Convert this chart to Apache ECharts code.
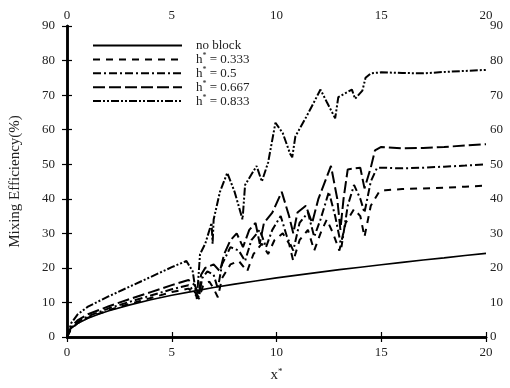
<!DOCTYPE html>
<html>
<head>
<meta charset="utf-8">
<script src="https://cdn.jsdelivr.net/npm/echarts@6/dist/echarts.min.js"></script>
<style>
  html, body { margin: 0; padding: 0; background: #fff; }
  #chart { width: 510px; height: 388px; }
</style>
</head>
<body>
<div id="chart"></div>
<script>
// x*, mixing efficiency (%) pairs
const noBlock = [[0,0],[0.1,2],[0.3,3],[0.5,3.9],[1,5.4],[1.5,6.6],[2,7.6],[3,9.3],[4,10.8],[5,12.1],[6,13.2],[7,14.3],[8,15.3],[9,16.2],[10,17.1],[11,17.9],[12,18.7],[13,19.5],[14,20.2],[15,20.9],[16,21.6],[17,22.3],[18,22.9],[19,23.6],[20,24.2]];

const h333 = [[0,0],[0.2,2.3],[0.5,4],[1,5.6],[2,7.8],[3,9.6],[4,11.3],[5,13],[5.8,14],[6.1,12.5],[6.3,11],[6.5,15],[6.8,16],[7.0,14],[7.2,11.5],[7.4,17],[7.8,21],[8.2,22],[8.6,19],[8.9,24],[9.3,27],[9.6,24],[9.9,28],[10.3,30],[10.6,27],[10.8,22],[11.1,28],[11.5,31],[11.8,25],[12.1,30],[12.4,34],[12.7,30],[13.0,25],[13.3,33],[13.7,37],[14.0,35],[14.2,29],[14.5,38],[14.9,42],[15.2,42.5],[16,42.8],[17,43],[18,43.2],[19,43.5],[20,43.8]];

const h500 = [[0,0],[0.2,2.6],[0.5,4.3],[1,6],[2,8.3],[3,10.2],[4,12],[5,13.8],[5.8,15],[6.1,13],[6.3,11.5],[6.45,17],[6.7,19],[7.0,18],[7.2,14],[7.4,21],[7.8,26],[8.2,25],[8.5,22],[8.8,28],[9.2,31],[9.5,26],[9.8,31],[10.2,35],[10.5,29],[10.8,25],[11.1,33],[11.5,36],[11.8,29],[12.1,34],[12.5,42],[12.8,35],[13.1,26],[13.4,38],[13.7,44],[14.0,40],[14.2,36],[14.5,45],[14.8,49],[15,49],[16,48.8],[17,49],[18,49.3],[19,49.6],[20,50]];

const h667 = [[0,0],[0.2,3],[0.5,4.8],[1,6.6],[2,8.9],[3,11],[4,13],[5,15],[5.8,16.5],[6.1,15],[6.3,12],[6.4,18],[6.6,20],[7.0,21],[7.3,19],[7.5,24],[7.8,28],[8.1,30],[8.4,26],[8.7,31],[9.0,33],[9.2,27],[9.4,33],[9.8,36],[10.25,42],[10.6,35],[10.8,30],[11.0,36],[11.4,38],[11.7,33],[12.0,40],[12.6,49.5],[12.9,40],[13.05,31],[13.2,40],[13.4,48.5],[14.0,49],[14.2,43],[14.5,49],[14.7,54],[15,55],[16,54.6],[17,54.7],[18,55],[19,55.4],[20,55.8]];

const h833 = [[0,0],[0.2,4],[0.5,6.5],[1,8.8],[2,11.8],[3,14.6],[4,17.4],[5,20.2],[5.7,22],[6.0,19],[6.2,11],[6.35,24],[6.6,27],[6.9,33],[6.95,27],[7.0,34],[7.3,42],[7.65,47.5],[8.0,42],[8.38,34],[8.5,44],[9.05,49.5],[9.3,45],[9.6,50.5],[9.95,62],[10.3,59],[10.65,53],[10.75,52],[10.9,58],[11.45,64],[12.1,71.6],[12.4,68],[12.8,63.3],[12.95,69.4],[13.6,71.6],[13.75,68.9],[14.1,71.3],[14.25,75],[14.5,76.3],[15,76.6],[16,76.4],[17,76.3],[18,76.7],[19,77],[20,77.3]];

const seriesNames = ['no block', 'h* = 0.333', 'h* = 0.5', 'h* = 0.667', 'h* = 0.833'];

const chart = echarts.init(document.getElementById('chart'));
const font = 'Liberation Serif';
const labelStyle = { fontFamily: font, fontSize: 13, color: '#222' };
const axisLine = { lineStyle: { color: '#000', width: 2.5 } };
const axisTick = { inside: true, length: 5, lineStyle: { color: '#000', width: 1.2 } };

function mkSeries(name, data, dash, width) {
    return {
        name: name,
        type: 'line',
        data: data,
        symbol: 'none',
        itemStyle: { color: '#000' },
        lineStyle: { color: '#000', width: width, type: dash },
        xAxisIndex: 0, yAxisIndex: 0
    };
}

chart.setOption({
    animation: false,
    backgroundColor: '#fff',
    grid: { left: 67, right: 24, top: 26, bottom: 39 },
    legend: {
        orient: 'vertical',
        left: 92, top: 39, padding: 0,
        itemWidth: 89, itemHeight: 10, itemGap: 0.4,
        data: seriesNames,
        itemStyle: { opacity: 0 },
        formatter: function(n) { return n.replace('h*', 'h{sup|*}'); },
        textStyle: {
            fontFamily: font, fontSize: 13, color: '#222', padding: [0, 0, 0, 9],
            rich: { sup: { fontFamily: font, fontSize: 8, color: '#222', verticalAlign: 'top', padding: [0, 0, 6, 0] } }
        }
    },
    xAxis: [
        { type: 'value', min: 0, max: 20, interval: 5, position: 'bottom',
          axisLine: axisLine, axisTick: axisTick, splitLine: { show: false },
          axisLabel: Object.assign({ margin: 9 }, labelStyle),
          name: 'x{sup|*}', nameLocation: 'middle', nameGap: 30,
          nameTextStyle: { fontFamily: font, fontSize: 15, color: '#222',
              rich: { sup: { fontFamily: font, fontSize: 9, color: '#222', verticalAlign: 'top', padding: [0, 0, 8, 0] } } } },
        { type: 'value', min: 0, max: 20, interval: 5, position: 'top',
          axisLine: axisLine, axisTick: axisTick, splitLine: { show: false },
          axisLabel: Object.assign({ margin: 4 }, labelStyle) }
    ],
    yAxis: [
        { type: 'value', min: 0, max: 90, interval: 10, position: 'left',
          axisLine: axisLine, axisTick: axisTick, splitLine: { show: false },
          axisLabel: Object.assign({ margin: 12 }, labelStyle),
          name: 'Mixing Efficiency(%)', nameLocation: 'middle', nameGap: 44,
          nameTextStyle: { fontFamily: font, fontSize: 15, color: '#222' } },
        { type: 'value', min: 0, max: 90, interval: 10, position: 'right',
          axisLine: axisLine, axisTick: axisTick, splitLine: { show: false },
          axisLabel: Object.assign({ margin: 4 }, labelStyle) }
    ],
    series: [
        mkSeries(seriesNames[0], noBlock, 'solid', 1.6),
        mkSeries(seriesNames[1], h333, [7, 6], 2),
        mkSeries(seriesNames[2], h500, [8, 3, 2, 3], 2),
        mkSeries(seriesNames[3], h667, [12, 4], 2),
        mkSeries(seriesNames[4], h833, [8, 2, 2, 2, 2, 2], 2)
    ]
});
</script>
</body>
</html>
